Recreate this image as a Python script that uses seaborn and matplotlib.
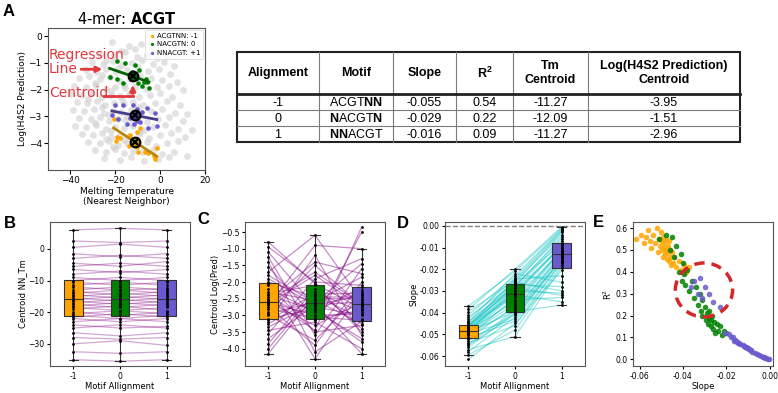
import numpy as np
import pandas as pd
import matplotlib
matplotlib.use("Agg")
import matplotlib.pyplot as plt
import seaborn as sns
from matplotlib.patches import Ellipse, Rectangle

plt.rcParams['font.family'] = ['DejaVu Sans']
plt.rcParams['mathtext.rm'] = 'Liberation Sans'
plt.rcParams['mathtext.bf'] = 'Liberation Sans:bold'
plt.rcParams['axes.edgecolor'] = '#555555'
plt.rcParams['axes.linewidth'] = 0.8

# ---- panel A: all 6-mers (background cloud)
cloud_tm = [
    -21.5, -14.0, -8.5, -3.5, -17.5, -11.0,
    -27.0, -20.5, -15.5, -10.5, -6.0, -1.5, 3.0, -24.0,
    -30.5, -25.5, -21.0, -17.0, -12.5, -8.0, -3.0, 1.5, 6.0, -19.0,
    -33.0, -28.5, -24.0, -19.5, -15.0, -10.0, -5.5, -0.5, 4.5, -26.0, -12.0,
    -36.0, -31.5, -27.0, -22.5, -18.0, -13.5, -9.0, -4.0, 1.0, 7.5, -29.0, -16.0,
    -38.5, -33.0, -28.5, -24.0, -20.0, -15.5, -11.0, -6.5, -1.5, 4.0, 10.0, -22.0, -13.0,
    -40.0, -35.0, -30.5, -26.0, -22.0, -18.0, -14.0, -9.5, -4.5, 0.0, 5.5, -32.0, -17.0,
    -37.0, -32.5, -28.0, -24.5, -20.5, -16.0, -12.0, -7.5, -2.5, 3.0, 9.0, -26.0, -10.0,
    -39.0, -34.0, -29.5, -25.0, -21.0, -17.5, -13.0, -8.5, -4.0, 1.0, 6.5, 12.0, -23.0, -15.0,
    -36.0, -31.0, -27.0, -23.0, -19.0, -15.5, -10.5, -6.0, -1.0, 4.0, 10.0, -29.0, -12.5,
    -38.0, -33.0, -28.5, -24.0, -20.0, -16.0, -12.0, -7.0, -3.0, 2.0, 8.0, 14.0, -22.0, -9.0,
    -35.0, -30.0, -26.0, -22.0, -18.0, -14.0, -9.5, -5.0, 0.0, 5.0, 11.0, -24.0, -16.0,
    -32.0, -27.0, -23.0, -19.0, -15.0, -11.0, -6.0, -2.0, 3.0, 8.0, -21.0,
    -29.0, -24.0, -20.0, -16.0, -12.0, -8.0, -3.0, 1.0, 6.0, 12.0,
    -25.0, -18.0, -13.0, -7.0, -1.0, 4.0,
]
cloud_pred = [
    -0.22, -0.38, -0.28, -0.47, -0.55, -0.50,
    -0.66, -0.72, -0.61, -0.78, -0.69, -0.83, -0.74, -0.92,
    -0.97, -1.03, -0.93, -1.08, -0.99, -0.91, -1.04, -0.96, -1.12, -1.21,
    -1.27, -1.33, -1.22, -1.36, -1.26, -1.17, -1.31, -1.24, -1.41, -1.47, -1.42,
    -1.56, -1.51, -1.62, -1.53, -1.66, -1.59, -1.49, -1.57, -1.63, -1.72, -1.77, -1.81,
    -1.86, -1.91, -1.83, -1.96, -1.89, -1.93, -1.86, -1.99, -1.91, -1.86, -2.01, -2.06, -2.11,
    -2.16, -2.21, -2.13, -2.26, -2.19, -2.23, -2.16, -2.29, -2.21, -2.13, -2.26, -2.36, -2.39,
    -2.46, -2.51, -2.43, -2.56, -2.49, -2.53, -2.46, -2.59, -2.51, -2.43, -2.56, -2.66, -2.63,
    -2.76, -2.81, -2.73, -2.86, -2.79, -2.83, -2.76, -2.89, -2.81, -2.73, -2.86, -2.91, -2.96, -2.99,
    -3.06, -3.11, -3.03, -3.16, -3.09, -3.13, -3.06, -3.19, -3.11, -3.03, -3.16, -3.26, -3.29,
    -3.36, -3.41, -3.33, -3.46, -3.39, -3.43, -3.36, -3.49, -3.41, -3.33, -3.46, -3.51, -3.56, -3.59,
    -3.66, -3.71, -3.63, -3.76, -3.69, -3.73, -3.66, -3.79, -3.71, -3.63, -3.76, -3.86, -3.89,
    -3.96, -4.01, -3.93, -4.06, -3.99, -4.03, -3.96, -4.09, -4.01, -3.93, -4.16,
    -4.26, -4.31, -4.23, -4.36, -4.29, -4.33, -4.26, -4.39, -4.31, -4.46,
    -4.56, -4.61, -4.53, -4.66, -4.59, -4.51,
]

# ACGT 6-mers for each alignment
acgt_m1_tm = [-20.7, -19.2, -17.7, -13.5, -10.5, -9.0, -10.5, -9.8, -6.8, -5.3, -2.7, -1.5, -2.3, -13.8, -19.5, -12.0]
acgt_m1_pred = [-3.11, -3.77, -3.79, -3.69, -3.57, -3.42, -4.16, -4.31, -4.34, -4.38, -4.47, -4.19, -4.59, -4.10, -3.91, -3.85]
acgt_0_tm = [-19.4, -15.8, -11.3, -9.5, -22.5, -19.4, -16.7, -9.9, -7.2, -5.0, -12.5, -13.0, -10.5, -6.5, -8.2, -6.0]
acgt_0_pred = [-0.92, -0.99, -1.07, -1.26, -1.52, -1.59, -1.74, -1.74, -1.70, -1.93, -1.35, -1.62, -1.55, -1.60, -1.88, -1.70]
acgt_p1_tm = [-20.3, -16.5, -12.3, -6.0, -2.3, -10.5, -18.8, -15.0, -10.5, -5.3, -1.5, -11.6, -21.5, -8.0, -13.5, -9.0]
acgt_p1_pred = [-2.58, -2.58, -2.56, -2.70, -2.86, -2.74, -3.11, -3.27, -3.17, -3.42, -3.36, -3.27, -2.95, -2.85, -3.05, -3.20]

# table values
tbl_align = ['-1', '0', '1']
tbl_motif = [r'ACGT$\mathbf{NN}$', r'$\mathbf{N}$ACGT$\mathbf{N}$', r'$\mathbf{NN}$ACGT']
tbl_slope = [-0.055, -0.029, -0.016]
tbl_r2 = [0.54, 0.22, 0.09]
tbl_tm = [-11.27, -12.09, -11.27]
tbl_pred = [-3.95, -1.51, -2.96]

# ---- panels B-E: per 4-mer summaries for alignment -1, 0, +1
tm_m1 = [-35.0, -32.5, -30.0, -28.0, -26.5, -25.0, -24.0, -23.0, -22.0, -21.5,
         -21.0, -20.5, -20.0, -19.0, -18.5, -18.0, -17.5, -17.0, -16.5, -16.0,
         -15.5, -15.0, -14.5, -14.0, -13.5, -13.0, -12.0, -11.5, -10.5, -10.0,
         -9.0, -8.0, -6.5, -5.5, -4.5, -3.0, -1.5, 0.5, 2.5, 6.0]
tm_0 = [-35.5, -33.0, -29.0, -28.5, -27.5, -24.0, -25.0, -22.0, -23.0, -20.5,
        -22.0, -19.5, -21.0, -18.0, -19.5, -17.0, -18.5, -16.0, -17.5, -15.0,
        -16.5, -14.0, -15.5, -13.0, -14.5, -12.0, -13.0, -10.5, -11.5, -9.0,
        -10.0, -7.0, -7.5, -4.5, -5.5, -2.0, -2.5, 1.5, 2.0, 6.5]
tm_p1 = [-35.0, -32.5, -30.5, -28.0, -26.5, -25.0, -24.5, -23.0, -22.0, -21.5,
         -21.0, -20.5, -20.0, -19.5, -18.5, -18.0, -17.5, -17.0, -16.5, -16.0,
         -15.5, -15.0, -14.5, -14.0, -13.5, -13.0, -12.5, -11.5, -10.5, -10.0,
         -9.0, -8.0, -6.5, -5.5, -4.0, -3.0, -1.5, 0.5, 2.5, 6.0]

pred_m1 = [-2.6, -3.85, -1.25, -2.9, -3.35, -2.05, -4.15, -2.45, -1.7, -3.1,
           -2.75, -0.8, -3.55, -2.3, -2.62, -1.9, -3.2, -2.5, -4.0, -2.2,
           -1.4, -2.95, -2.58, -3.45, -2.0, -2.7, -1.1, -3.0, -2.35, -3.7,
           -2.55, -1.55, -3.25, -2.8, -0.95, -2.4, -3.15, -1.8, -2.65, -2.1]
pred_0 = [-3.0, -2.2, -3.6, -1.5, -2.65, -4.3, -2.4, -3.15, -0.6, -2.8,
          -3.9, -2.05, -1.9, -2.55, -3.3, -2.7, -1.2, -3.45, -2.3, -2.9,
          -4.1, -2.6, -1.7, -3.2, -2.45, -0.9, -2.75, -3.75, -2.1, -2.68,
          -1.4, -3.05, -2.5, -3.1, -2.0, -2.85, -2.35, -2.62, -1.8, -3.5]
pred_p1 = [-2.96, -3.4, -1.6, -2.7, -4.15, -2.25, -3.1, -0.5, -2.55, -3.8,
           -2.0, -2.8, -1.3, -3.25, -2.62, -2.4, -3.6, -0.35, -2.9, -2.15,
           -3.18, -1.85, -2.68, -4.0, -2.45, -1.0, -3.0, -2.3, -3.5, -2.6,
           -1.75, -3.15, -2.5, -2.85, -2.1, -3.7, -2.35, -1.45, -2.75, -3.3]

slope_m1 = [-0.057, -0.0615, -0.054, -0.0595, -0.0515, -0.055, -0.058, -0.0498, -0.053, -0.056,
            -0.0505, -0.0545, -0.0488, -0.052, -0.051, -0.048, -0.0495, -0.050, -0.047, -0.0492,
            -0.0485, -0.0462, -0.049, -0.0478, -0.0455, -0.0482, -0.0468, -0.044, -0.0475, -0.046,
            -0.042, -0.0465, -0.045, -0.0395, -0.0458, -0.043, -0.037, -0.0445, -0.041, -0.0385]
slope_0 = [-0.051, -0.045, -0.046, -0.048, -0.044, -0.041, -0.042, -0.043, -0.0405, -0.040,
           -0.038, -0.039, -0.0395, -0.037, -0.033, -0.035, -0.034, -0.036, -0.032, -0.0318,
           -0.0295, -0.031, -0.030, -0.0312, -0.029, -0.0285, -0.027, -0.0278, -0.0272, -0.028,
           -0.0265, -0.0245, -0.0255, -0.025, -0.026, -0.024, -0.021, -0.022, -0.023, -0.020]
slope_p1 = [-0.019, -0.0205, -0.0165, -0.018, -0.017, -0.0155, -0.016, -0.0145, -0.015, -0.0135,
            -0.014, -0.0125, -0.0365, -0.0115, -0.012, -0.0105, -0.033, -0.011, -0.0095, -0.035,
            -0.010, -0.0085, -0.031, -0.009, -0.007, -0.032, -0.008, -0.006, -0.028, -0.005,
            -0.003, -0.023, -0.004, -0.0025, -0.030, -0.002, -0.001, -0.026, -0.0015, -0.0005]

r2_m1 = [0.56, 0.55, 0.57, 0.57, 0.49, 0.54, 0.53, 0.50, 0.53, 0.59,
         0.52, 0.51, 0.51, 0.60, 0.55, 0.55, 0.54, 0.58, 0.52, 0.47,
         0.53, 0.45, 0.56, 0.50, 0.43, 0.48, 0.49, 0.47, 0.46, 0.50,
         0.45, 0.54, 0.49, 0.43, 0.47, 0.42, 0.42, 0.44, 0.41, 0.40]
r2_0 = [0.55, 0.56, 0.50, 0.57, 0.47, 0.48, 0.40, 0.52, 0.36, 0.44,
        0.41, 0.34, 0.39, 0.31, 0.25, 0.28, 0.33, 0.36, 0.30, 0.22,
        0.18, 0.20, 0.24, 0.27, 0.21, 0.16, 0.18, 0.22, 0.15, 0.19,
        0.20, 0.16, 0.17, 0.12, 0.14, 0.13, 0.13, 0.11, 0.15, 0.12]
r2_p1 = [0.115, 0.12, 0.085, 0.10, 0.10, 0.085, 0.09, 0.075, 0.08, 0.07,
         0.075, 0.065, 0.33, 0.055, 0.06, 0.05, 0.30, 0.055, 0.045, 0.36,
         0.05, 0.04, 0.28, 0.04, 0.03, 0.37, 0.035, 0.025, 0.30, 0.02,
         0.01, 0.24, 0.015, 0.008, 0.33, 0.006, 0.002, 0.26, 0.004, 0.001]

align_names = ['-1', '0', '1']
box_colors = {'-1': 'orange', '0': 'green', '1': 'slateblue'}
line_colors = ['darkgoldenrod', 'darkgreen', 'darkslateblue']
red = '#e0393e'

W, H = 778, 393
fig = plt.figure(figsize=(W / 100, H / 100), dpi=100)


def px_axes(x0, y0, x1, y1):
    return fig.add_axes([x0 / W, 1 - y1 / H, (x1 - x0) / W, (y1 - y0) / H])


# ---------------- A
axA = px_axes(48, 28, 205, 170)
sns.scatterplot(x=cloud_tm, y=cloud_pred, color='#d0d0d0', s=24, alpha=0.6,
                linewidth=0, ax=axA)
groups = [(acgt_m1_tm, acgt_m1_pred, 'orange', 'ACGTNN: -1'),
          (acgt_0_tm, acgt_0_pred, 'green', 'NACGTN: 0'),
          (acgt_p1_tm, acgt_p1_pred, 'slateblue', 'NNACGT: +1')]
for k, (gx, gy, c, lab) in enumerate(groups):
    sns.scatterplot(x=gx, y=gy, color=c, s=11, linewidth=0, label=lab, ax=axA, zorder=3)
for k, (gx, gy, c, lab) in enumerate(groups):
    xs = np.array([min(gx), max(gx)])
    axA.plot(xs, tbl_pred[k] + tbl_slope[k] * (xs - tbl_tm[k]), color=line_colors[k], lw=2, zorder=4)
    axA.plot(tbl_tm[k], tbl_pred[k], 'o', ms=7, mfc=line_colors[k], mec='black', mew=1.5, zorder=5)
    axA.plot(tbl_tm[k], tbl_pred[k], 'x', ms=4.5, color='black', mew=1.5, zorder=6)
axA.set_xlim(-50, 20)
axA.set_ylim(-5, 0.3)
axA.set_xticks([-40, -20, 0, 20])
axA.set_yticks([0, -1, -2, -3, -4])
axA.tick_params(labelsize=6.5, length=3, pad=1.5)
axA.set_xlabel('Melting Temperature\n(Nearest Neighbor)', fontsize=6.5, labelpad=1)
axA.set_ylabel('Log(H4S2 Prediction)', fontsize=6.5, labelpad=1)
axA.set_title(r'4-mer: $\bf{ACGT}$', fontsize=10.5, pad=3, math_fontfamily='dejavusans')
leg = axA.legend(loc='upper right', fontsize=5, markerscale=0.7, handletextpad=0.1,
                 labelspacing=0.35, borderpad=0.4, handlelength=1.2, borderaxespad=0.3)
leg.get_frame().set_linewidth(0.5)
axA.text(-49.5, -0.97, 'Regression\nLine', color=red, fontsize=10, va='center', ha='left',
         linespacing=1.05, zorder=7)
axA.annotate('', xy=(-24.5, -1.24), xytext=(-36.5, -1.24),
             arrowprops=dict(arrowstyle='-|>', color=red, lw=2, mutation_scale=8), zorder=7)
axA.text(-49.5, -2.12, 'Centroid', color=red, fontsize=10, va='center', ha='left', zorder=7)
axA.plot([-25.0, -12.2], [-2.22, -2.22], color=red, lw=2, zorder=7)
axA.annotate('', xy=(-12.2, -1.72), xytext=(-12.2, -2.25),
             arrowprops=dict(arrowstyle='-|>', color=red, lw=2, mutation_scale=8), zorder=7)

# ---------------- table
axT = px_axes(237, 52, 740, 142)
axT.set_xlim(237, 740)
axT.set_ylim(142, 52)
axT.axis('off')
col_edges = [237, 319, 393, 456, 513, 588, 740]
row_edges = [52, 94, 110, 126, 142]
for x in col_edges[1:-1]:
    axT.plot([x, x], [52, 142], color='#7a7a7a', lw=0.8, clip_on=False)
for y in row_edges[2:-1]:
    axT.plot([237, 740], [y, y], color='#7a7a7a', lw=0.8, clip_on=False)
axT.plot([237, 740], [94, 94], color='#222222', lw=2, clip_on=False)
axT.add_patch(Rectangle((237, 52), 503, 90, fill=False, ec='#222222', lw=1.5, clip_on=False))
headers = ['Alignment', 'Motif', 'Slope', r'$\mathbf{R^2}$', 'Tm\nCentroid',
           'Log(H4S2 Prediction)\nCentroid']
centers = [(col_edges[i] + col_edges[i + 1]) / 2 for i in range(6)]
for cx, h in zip(centers, headers):
    axT.text(cx, 73, h, ha='center', va='center', fontsize=9, fontweight='bold',
             family='Liberation Sans', linespacing=1.25, math_fontfamily='custom')
for r in range(3):
    cy = (row_edges[r + 1] + row_edges[r + 2]) / 2 + 0.5
    cells = [tbl_align[r], tbl_motif[r], f'{tbl_slope[r]:.3f}', f'{tbl_r2[r]:.2f}',
             f'{tbl_tm[r]:.2f}', f'{tbl_pred[r]:.2f}']
    for cx, t in zip(centers, cells):
        axT.text(cx, cy, t, ha='center', va='center', fontsize=9,
                 family='Liberation Sans', math_fontfamily='custom')


# ---------------- B, C, D
def align_panel(ax, vals, lcolor, alpha, ylabel):
    n = len(vals[0])
    df = pd.DataFrame({'align': sum([[a] * n for a in align_names], []),
                       'val': vals[0] + vals[1] + vals[2]})
    sns.boxplot(data=df, x='align', y='val', hue='align', order=align_names,
                hue_order=align_names, palette=box_colors, saturation=1, width=0.4,
                linecolor='#333333', linewidth=0.8, fliersize=0, legend=False,
                ax=ax, zorder=2)
    for a, b, c in zip(*vals):
        ax.plot([0, 1, 2], [a, b, c], color=lcolor, alpha=alpha, lw=0.9, zorder=1)
    sns.stripplot(data=df, x='align', y='val', order=align_names, color='black',
                  size=2, jitter=False, ax=ax, zorder=3)
    ax.set_xlim(-0.5, 2.5)
    ax.set_xlabel('Motif Allignment', fontsize=6, labelpad=1)
    ax.set_ylabel(ylabel, fontsize=6, labelpad=1)
    ax.tick_params(labelsize=5.5, length=2.5, pad=1.5)


top, bot = 222, 366
axB = px_axes(50, top, 190, bot)
align_panel(axB, [tm_m1, tm_0, tm_p1], 'purple', 0.35, 'Centroid NN_Tm')
axB.set_ylim(-37, 8.5)
axB.set_yticks([0, -10, -20, -30])

axC = px_axes(245, top, 385, bot)
align_panel(axC, [pred_m1, pred_0, pred_p1], 'purple', 0.45, 'Centroid Log(Pred)')
axC.set_ylim(-4.52, -0.2)
axC.set_yticks(np.arange(-4.0, -0.49, 0.5))

axD = px_axes(445, top, 585, bot)
align_panel(axD, [slope_m1, slope_0, slope_p1], 'c', 0.4, 'Slope')
axD.axhline(0, color='gray', ls='--', lw=1, zorder=0)
axD.set_ylim(-0.0646, 0.0018)
axD.set_yticks(np.arange(-0.06, 0.001, 0.01))
axD.yaxis.set_major_formatter(matplotlib.ticker.FormatStrFormatter('%.2f'))

# ---------------- E
axE = px_axes(633, top, 773, bot)
for s, r, c in [(slope_m1, r2_m1, 'orange'), (slope_0, r2_0, 'green'), (slope_p1, r2_p1, 'slateblue')]:
    sns.scatterplot(x=s, y=r, color=c, s=16, alpha=0.85, linewidth=0, ax=axE)
axE.add_patch(Ellipse((-0.0303, 0.317), 0.0264, 0.247, fill=False, ec='#d62728',
                      ls=(0, (3, 2)), lw=2.5, zorder=5))
axE.set_xlim(-0.063, 0.0015)
axE.set_ylim(-0.031, 0.628)
axE.set_xticks([-0.06, -0.04, -0.02, 0.0])
axE.set_yticks(np.arange(0, 0.61, 0.1))
axE.xaxis.set_major_formatter(matplotlib.ticker.FormatStrFormatter('%.2f'))
axE.yaxis.set_major_formatter(matplotlib.ticker.FormatStrFormatter('%.1f'))
axE.set_xlabel('Slope', fontsize=6, labelpad=1)
axE.set_ylabel(r'R$^2$', fontsize=6, labelpad=1)
axE.tick_params(labelsize=5.5, length=2.5, pad=1.5)

# panel letters
for lab, x, y in [('A', 9, 12), ('B', 10, 223), ('C', 203, 220), ('D', 403, 224), ('E', 598, 222)]:
    fig.text(x / W, 1 - y / H, lab, fontsize=12, fontweight='bold', family='Liberation Sans',
             ha='center', va='center')

fig.savefig('out.png', dpi=100)
